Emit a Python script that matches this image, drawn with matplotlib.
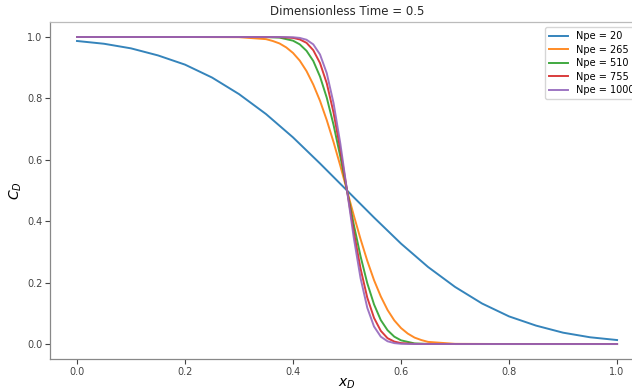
import numpy as np
import matplotlib
matplotlib.use("Agg")
import matplotlib.pyplot as plt

# values (C_D vs x_D at t_D = 0.5)
x_20 = [0.0, 0.05, 0.1, 0.15, 0.2, 0.25, 0.3, 0.35, 0.4, 0.45, 0.5,
        0.55, 0.6, 0.65, 0.7, 0.75, 0.8, 0.85, 0.9, 0.95, 1.0]
c_20 = [0.987, 0.978, 0.963, 0.940, 0.910, 0.868, 0.814, 0.749, 0.673, 0.588, 0.5,
        0.412, 0.327, 0.251, 0.186, 0.132, 0.090, 0.060, 0.037, 0.022, 0.013]

x_265 = [0.0, 0.2, 0.3, 0.35, 0.3625, 0.375, 0.3875, 0.4, 0.4125, 0.425, 0.4375, 0.45,
         0.4625, 0.475, 0.4875, 0.5, 0.5125, 0.525, 0.5375, 0.55, 0.5625, 0.575,
         0.5875, 0.6, 0.6125, 0.625, 0.6375, 0.65, 0.7, 0.8, 1.0]
c_265 = [1.0, 1.0, 0.9994, 0.993, 0.987, 0.979, 0.966, 0.948, 0.923, 0.889, 0.845, 0.792,
         0.729, 0.658, 0.581, 0.5, 0.419, 0.342, 0.271, 0.208, 0.155, 0.111,
         0.077, 0.052, 0.034, 0.021, 0.013, 0.007, 0.0006, 0.0, 0.0]

x_510 = [0.0, 0.3, 0.35, 0.375, 0.4, 0.4125, 0.425, 0.4375, 0.45, 0.4625, 0.475, 0.4875,
         0.5, 0.5125, 0.525, 0.5375, 0.55, 0.5625, 0.575, 0.5875, 0.6, 0.625, 0.65, 0.7, 1.0]
c_510 = [1.0, 1.0, 0.9998, 0.998, 0.988, 0.976, 0.955, 0.922, 0.871, 0.802, 0.714, 0.611,
         0.5, 0.389, 0.286, 0.198, 0.129, 0.078, 0.045, 0.024, 0.012, 0.002, 0.0002, 0.0, 0.0]

x_755 = [0.0, 0.3, 0.375, 0.4, 0.4125, 0.425, 0.4375, 0.45, 0.4625, 0.475, 0.4875,
         0.5, 0.5125, 0.525, 0.5375, 0.55, 0.5625, 0.575, 0.5875, 0.6, 0.625, 0.7, 1.0]
c_755 = [1.0, 1.0, 0.9995, 0.997, 0.992, 0.981, 0.957, 0.915, 0.849, 0.754, 0.634,
         0.5, 0.366, 0.246, 0.151, 0.085, 0.043, 0.019, 0.008, 0.003, 0.0005, 0.0, 0.0]

x_1000 = [0.0, 0.3, 0.375, 0.4, 0.4125, 0.425, 0.4375, 0.45, 0.4625, 0.475, 0.4875,
          0.5, 0.5125, 0.525, 0.5375, 0.55, 0.5625, 0.575, 0.5875, 0.6, 0.625, 0.7, 1.0]
c_1000 = [1.0, 1.0, 0.9999, 0.9992, 0.997, 0.991, 0.976, 0.943, 0.882, 0.785, 0.654,
          0.5, 0.346, 0.215, 0.118, 0.057, 0.024, 0.009, 0.003, 0.0008, 0.0001, 0.0, 0.0]

labels = ['Npe = 20', 'Npe = 265', 'Npe = 510', 'Npe = 755', 'Npe = 1000']

fig = plt.figure(figsize=(6.32, 3.9), dpi=100)
ax = fig.add_axes([0.0791, 0.0785, 0.94, 0.866])

for xs, cs, lab in zip([x_20, x_265, x_510, x_755, x_1000],
                       [c_20, c_265, c_510, c_755, c_1000], labels):
    ax.plot(xs, cs, label=lab, lw=1.4, alpha=0.9)

ax.set_title('Dimensionless Time = 0.5', fontsize=8.5, color='#262626', pad=5)
ax.set_xlabel('$x_D$', fontsize=10, labelpad=0)
ax.set_ylabel('$C_D$', fontsize=10, labelpad=2)
ax.tick_params(labelsize=7, colors='#444444', length=3.5, width=0.8, pad=2)
ax.set_xticks([0.0, 0.2, 0.4, 0.6, 0.8, 1.0])
ax.set_yticks([0.0, 0.2, 0.4, 0.6, 0.8, 1.0])
for s in ax.spines.values():
    s.set_color('#888888')
    s.set_linewidth(0.9)
ax.spines['top'].set_color('#bbbbbb')

ax.legend(loc='upper right', fontsize=7, framealpha=0.8, handlelength=2.0,
          labelspacing=0.35, borderaxespad=0.6)

plt.savefig('out.png', dpi=100)
